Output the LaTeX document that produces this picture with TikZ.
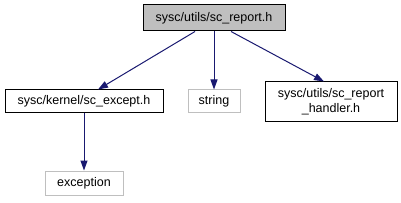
\documentclass[tikz,border=0pt]{standalone}
\usepackage{fontspec}
\setmainfont{Liberation Sans}
\usepackage{xcolor}
\definecolor{edgeblue}{HTML}{191970}
\definecolor{boxgray}{HTML}{BFBFBF}
\usetikzlibrary{arrows.meta,positioning}

\begin{document}
\begin{tikzpicture}[x=1pt,y=-1pt,
    font=\fontsize{12.5}{15}\selectfont,
    filebox/.style={draw=black, line width=1pt, inner sep=0pt, align=center},
    extbox/.style={draw=boxgray, line width=1pt, inner sep=0pt, align=center},
    incl/.style={-{Triangle[length=10pt,width=7pt]}, edgeblue, line width=1pt}]
    \useasboundingbox (0,0) rectangle (401,203);

    % Header being documented
    \node[filebox, fill=boxgray, minimum width=142pt, minimum height=26pt] (report) at (214,18) {sysc/utils/sc\_report.h};

    % Included files
    \node[filebox, minimum width=158pt, minimum height=23pt] (except) at (84,101.5) {sysc/kernel/sc\_except.h};
    \node[extbox, minimum width=52pt, minimum height=23pt] (string) at (214,101.5) {string};
    \node[filebox, minimum width=132pt, minimum height=39pt] (handler) at (331,101.5) {sysc/utils/sc\_report\\\_handler.h};
    \node[extbox, minimum width=78pt, minimum height=24pt] (exception) at (84,183) {exception};

    % Include edges
    \draw[incl] ([xshift=-19pt]report.south) -- ([xshift=14pt]except.north);
    \draw[incl] (report.south) -- (string.north);
    \draw[incl] ([xshift=17pt]report.south) -- ([xshift=-7pt]handler.north);
    \draw[incl] (except.south) -- (exception.north);
\end{tikzpicture}
\end{document}
